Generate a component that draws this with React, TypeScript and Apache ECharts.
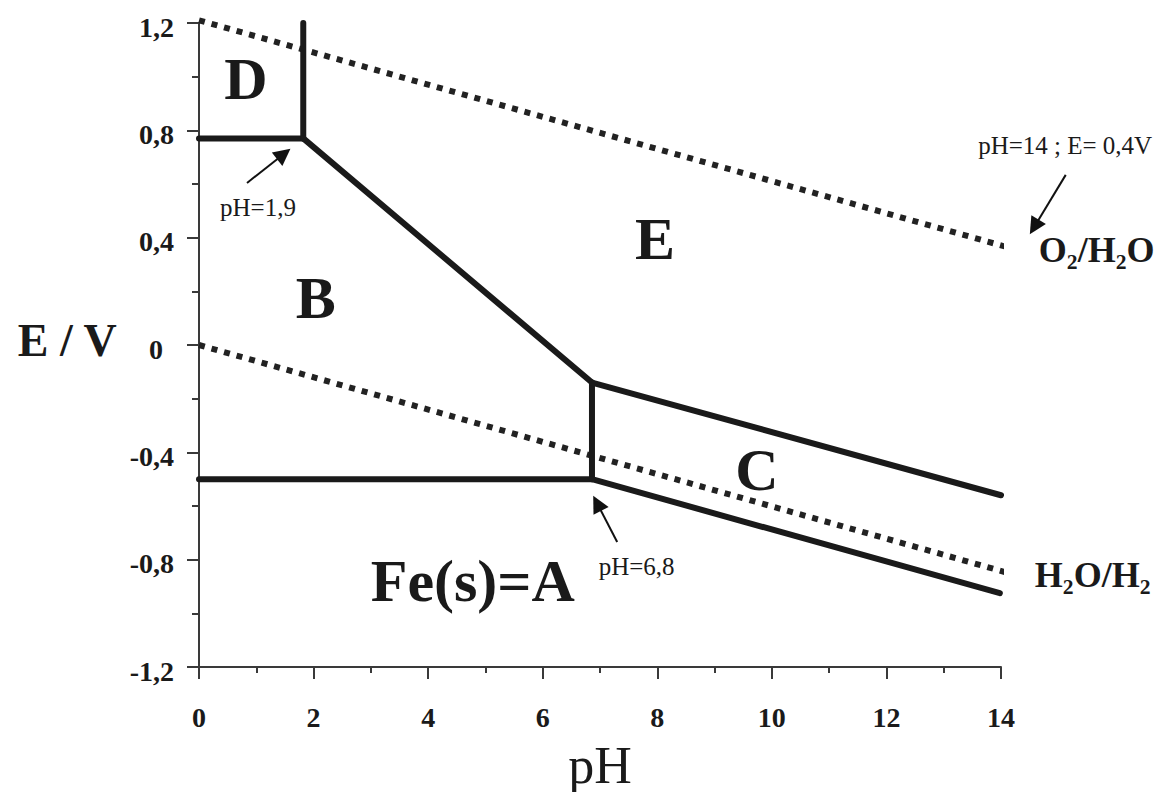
import { useEffect, useRef } from "react";
import * as echarts from "echarts";

// ---- axes ----
const X_MIN = 0;
const X_MAX = 14;
const X_STEP = 2;
const Y_MIN = -1.2;
const Y_MAX = 1.2;
const Y_STEP = 0.4;

// ---- boundary lines of the E-pH diagram (pH, E/V) ----
const lineDB = [[0, 0.77], [1.82, 0.77]];
const lineDE = [[1.82, 0.77], [1.82, 1.2]];
const lineBE = [[1.82, 0.77], [6.86, -0.14]];
const lineBC = [[6.86, -0.14], [6.86, -0.5]];
const lineAB = [[0, -0.5], [6.86, -0.5]];
const lineCE = [[6.86, -0.14], [14, -0.56]];
const lineAC = [[6.86, -0.5], [13.98, -0.925]];

// ---- water stability lines ----
const waterO2 = [[0, 1.21], [14.27, 0.355]];
const waterH2 = [[0, 0], [14.25, -0.857]];

// ---- annotations (in pH / E coordinates) ----
const regionNames = ["D", "B", "E", "C", "Fe(s)=A"];
const regionPos = [[0.82, 0.99], [2.04, 0.175], [7.96, 0.395], [9.74, -0.466], [4.78, -0.88]];
const noteTexts = ["pH=1,9", "pH=6,8", "pH=14 ; E= 0,4V"];
const notePos = [[1.03, 0.514], [7.64, -0.824], [15.12, 0.742]];
const coupleNames = ["O₂/H₂O", "H₂O/H₂"];
const couplePos = [[15.67, 0.354], [15.6, -0.857]];
const axisTitleY = "E / V";
const axisTitleYPos = [-2.3, 0.015];
const axisTitleX = "pH";
const arrowSegments = [
  [[0.838, 0.604], [1.48, 0.712]],
  [[7.3, -0.734], [6.95, -0.59]],
  [[15.13, 0.634], [14.58, 0.44]],
];

const SERIF = "'Liberation Serif', 'Times New Roman', 'DejaVu Serif', serif";
const INK = "#1a1a1a";
const AXIS = "#3a3a3a";

type TextItem = { text: string; pos: number[]; size: number; weight: string };

function buildTexts(): TextItem[] {
  const items: TextItem[] = [];
  regionNames.forEach((t, i) => items.push({ text: t, pos: regionPos[i], size: 60, weight: "bold" }));
  noteTexts.forEach((t, i) => items.push({ text: t, pos: notePos[i], size: 25, weight: "normal" }));
  coupleNames.forEach((t, i) => items.push({ text: t, pos: couplePos[i], size: 36, weight: "bold" }));
  items.push({ text: axisTitleY, pos: axisTitleYPos, size: 46, weight: "bold" });
  return items;
}

function fmt(v: number): string {
  if (Math.abs(v) < 1e-9) return "{z|0}";
  return v.toFixed(1).replace(".", ",");
}

export default function App() {
  const ref = useRef<HTMLDivElement>(null);

  useEffect(() => {
    if (!ref.current) return;
    const chart = echarts.init(ref.current, null, { renderer: "svg" });
    const texts = buildTexts();

    const solid = [lineDB, lineDE, lineBE, lineBC, lineAB, lineCE, lineAC];
    const solidSeries = solid.map((seg) => ({
      type: "line",
      data: seg,
      showSymbol: false,
      symbol: "none",
      clip: false,
      silent: true,
      lineStyle: { color: INK, width: 6, cap: "round", join: "round" },
      z: 3,
    }));
    const dottedSeries = [waterO2, waterH2].map((seg) => ({
      type: "line",
      data: seg,
      showSymbol: false,
      symbol: "none",
      clip: false,
      silent: true,
      lineStyle: { color: "#222222", width: 6, type: [6, 7], cap: "butt" },
      z: 2,
    }));

    const option: any = {
      animation: false,
      backgroundColor: "#ffffff",
      grid: {
        left: 199,
        right: 163,
        top: 23,
        bottom: 125,
        containLabel: false,
        outerBoundsMode: "none",
      },
      xAxis: {
        type: "value",
        min: X_MIN,
        max: X_MAX,
        interval: X_STEP,
        name: axisTitleX,
        nameLocation: "middle",
        nameGap: 72,
        nameTextStyle: { fontFamily: SERIF, fontSize: 52, color: INK },
        axisLine: { show: true, onZero: false, lineStyle: { color: AXIS, width: 2 } },
        axisTick: { show: true, length: 12, lineStyle: { color: AXIS, width: 2 } },
        minorTick: { show: true, splitNumber: 2, length: 6, lineStyle: { color: AXIS, width: 2 } },
        splitLine: { show: false },
        minorSplitLine: { show: false },
        axisLabel: {
          margin: 36,
          fontFamily: SERIF,
          fontWeight: "bold",
          fontSize: 28,
          color: INK,
        },
      },
      yAxis: {
        type: "value",
        min: Y_MIN,
        max: Y_MAX,
        interval: Y_STEP,
        axisLine: { show: true, onZero: false, lineStyle: { color: AXIS, width: 2 } },
        axisTick: { show: true, length: 12, lineStyle: { color: AXIS, width: 2 } },
        minorTick: { show: true, splitNumber: 2, length: 7, lineStyle: { color: AXIS, width: 2 } },
        splitLine: { show: false },
        minorSplitLine: { show: false },
        axisLabel: {
          margin: 25,
          fontFamily: SERIF,
          fontWeight: "bold",
          fontSize: 28,
          color: INK,
          padding: [8, 0, 0, 0],
          formatter: fmt,
          rich: {
            z: { fontFamily: SERIF, fontWeight: "bold", fontSize: 28, color: INK, padding: [0, 11, 0, 0] },
          },
        },
      },
      series: [
        ...dottedSeries,
        ...solidSeries,
        {
          type: "lines",
          coordinateSystem: "cartesian2d",
          clip: false,
          silent: true,
          polyline: false,
          symbol: ["none", "triangle"],
          symbolSize: 17,
          lineStyle: { color: "#111111", width: 2, opacity: 1, curveness: 0 },
          data: arrowSegments.map((s) => ({ coords: s })),
          z: 4,
        },
        {
          type: "custom",
          silent: true,
          clip: false,
          encode: { x: 0, y: 1 },
          data: texts.map((t) => [t.pos[0], t.pos[1]]),
          renderItem: (params: any, api: any) => {
            const t = texts[params.dataIndex];
            const p = api.coord([api.value(0), api.value(1)]);
            return {
              type: "text",
              x: p[0],
              y: p[1],
              style: {
                text: t.text,
                fill: INK,
                fontFamily: SERIF,
                fontSize: t.size,
                fontWeight: t.weight,
                align: "center",
                verticalAlign: "middle",
              },
            };
          },
          z: 5,
        },
      ],
    };

    chart.setOption(option);
    return () => chart.dispose();
  }, []);

  return (
    <div
      ref={ref}
      style={{ position: "fixed", left: 0, top: 0, width: 1164, height: 792, background: "#fff" }}
    />
  );
}
